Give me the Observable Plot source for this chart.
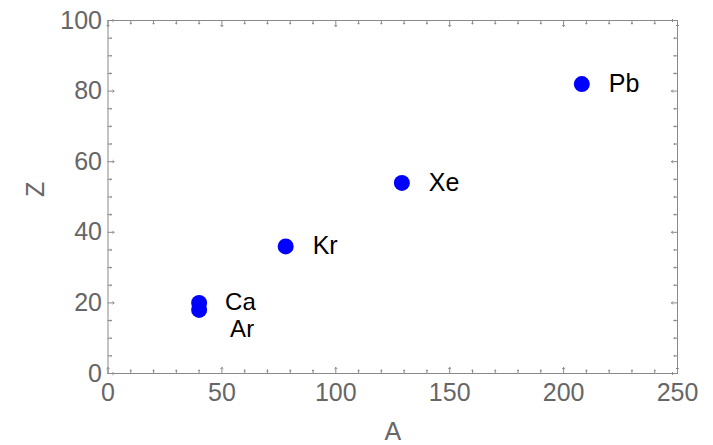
<!DOCTYPE html>
<html>
<head>
<meta charset="utf-8">
<script src="https://cdn.jsdelivr.net/npm/d3@7"></script>
<script src="https://cdn.jsdelivr.net/npm/@observablehq/plot@0.6"></script>
<style>
  html, body { margin: 0; padding: 0; background: #fff; }
</style>
</head>
<body>
<div id="chart"></div>
<script>
// Data
const elements = ["Ar", "Ca", "Kr", "Xe", "Pb"];
const massA = [40, 40, 78, 129, 208];
const chargeZ = [18, 20, 36, 54, 82];

// Axis ticks
const xTicks = [0, 50, 100, 150, 200, 250];
const yTicks = [0, 20, 40, 60, 80, 100];
const xMinor = d3.range(0, 251, 10).filter(v => v % 50 !== 0);
const yMinor = d3.range(0, 101, 5).filter(v => v % 20 !== 0);

const table = elements.map((name, i) => ({name, A: massA[i], Z: chargeZ[i]}));

const frameColor = "#8a8a8a";
const labelColor = "#666666";

function tickMarks(values, len, side) {
  if (side === "bottom") return Plot.vector(values, {x: d => d, y: 0, length: len, rotate: 0, anchor: "start", stroke: frameColor, strokeWidth: 1});
  if (side === "top") return Plot.vector(values, {x: d => d, y: 100, length: len, rotate: 180, anchor: "start", stroke: frameColor, strokeWidth: 1});
  if (side === "left") return Plot.vector(values, {x: 0, y: d => d, length: len, rotate: 90, anchor: "start", stroke: frameColor, strokeWidth: 1});
  return Plot.vector(values, {x: 250, y: d => d, length: len, rotate: -90, anchor: "start", stroke: frameColor, strokeWidth: 1});
}

const chart = Plot.plot({
  width: 713,
  height: 445,
  marginLeft: 107.5,
  marginRight: 36,
  marginTop: 20,
  marginBottom: 72,
  style: {fontFamily: "'Liberation Sans', Arial, Helvetica, sans-serif", fontSize: "25px", color: labelColor, background: "#fff"},
  x: {domain: [0, 250]},
  y: {domain: [0, 100]},
  marks: [
    Plot.axisX(xTicks, {tickSize: 0, tickPadding: 10, label: null, fontSize: 25}),
    Plot.axisY(yTicks, {tickSize: 0, tickPadding: 6, label: null, fontSize: 25}),
    Plot.frame({stroke: frameColor, strokeWidth: 1}),
    tickMarks(xTicks, 6, "bottom"),
    tickMarks(xMinor, 3.5, "bottom"),
    tickMarks(xTicks, 6, "top"),
    tickMarks(xMinor, 3.5, "top"),
    tickMarks(yTicks, 6, "left"),
    tickMarks(yMinor, 3.5, "left"),
    tickMarks(yTicks, 6, "right"),
    tickMarks(yMinor, 3.5, "right"),
    Plot.text(["A"], {frameAnchor: "bottom", dy: 66, fill: labelColor, fontSize: 25}),
    Plot.text(["Z"], {frameAnchor: "left", dx: -72, rotate: -90, fill: labelColor, fontSize: 25}),
    Plot.dot(table, {x: "A", y: "Z", r: 8, fill: "#0000ff", stroke: null}),
    Plot.text(table.filter(d => d.name !== "Ar" && d.name !== "Ca"), {x: "A", y: "Z", text: "name", textAnchor: "start", dx: 27, fill: "#000", fontSize: 25}),
    Plot.text(table.filter(d => d.name === "Ca"), {x: "A", y: "Z", text: "name", textAnchor: "start", dx: 26, dy: -1, fill: "#000", fontSize: 24}),
    Plot.text(table.filter(d => d.name === "Ar"), {x: "A", y: "Z", text: "name", textAnchor: "start", dx: 31, dy: 19, fill: "#000", fontSize: 24})
  ]
});
document.getElementById("chart").appendChild(chart);
</script>
</body>
</html>
